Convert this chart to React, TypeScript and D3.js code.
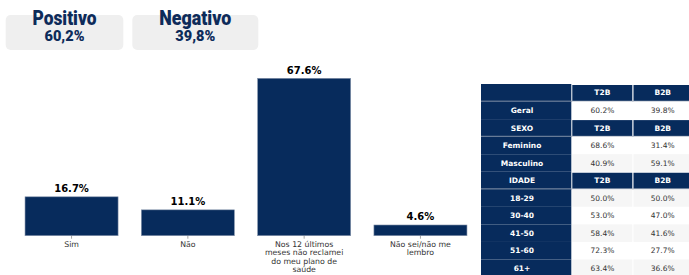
import React, { useEffect, useRef } from 'react';
import * as d3 from 'd3';

const categories = [
  'Sim',
  'Não',
  'Nos 12 últimos meses não reclamei do meu plano de saúde',
  'Não sei/não me lembro',
];
const values = [16.7, 11.1, 67.6, 4.6];

const summaryTitles = ['Positivo', 'Negativo'];
const summaryValues = ['60,2%', '39,8%'];

const tableRowLabels = ['', 'Geral', 'SEXO', 'Feminino', 'Masculino', 'IDADE', '18-29', '30-40', '41-50', '51-60', '61+'];
const tableHeaderRows = [0, 2, 5];
const t2bValues = ['T2B', '60.2%', 'T2B', '68.6%', '40.9%', 'T2B', '50.0%', '53.0%', '58.4%', '72.3%', '63.4%'];
const b2bValues = ['B2B', '39.8%', 'B2B', '31.4%', '59.1%', 'B2B', '50.0%', '47.0%', '41.6%', '27.7%', '36.6%'];
const stripedRows = [4, 6, 8, 10];

const W = 689;
const H = 275;
const NAVY = '#072b5c';
const FONT = 'DejaVu Sans, sans-serif';

// greedy wrap, like python textwrap
function wrap(s: string, width: number) {
  const words = s.split(' ');
  const lines: string[] = [];
  let cur = '';
  words.forEach(w => {
    if (!cur) cur = w;
    else if ((cur + ' ' + w).length <= width) cur += ' ' + w;
    else { lines.push(cur); cur = w; }
  });
  if (cur) lines.push(cur);
  return lines;
}

const App = () => {
  const svgRef = useRef<SVGSVGElement>(null);

  useEffect(() => {
    const svg = d3.select(svgRef.current);
    svg.selectAll('*').remove();

    // summary cards
    const cardX = [[5.7, 123.3], [132.3, 258.3]];
    const titleW = [64, 72];
    summaryTitles.forEach((t, i) => {
      const [x0, x1] = cardX[i];
      const cx = (x0 + x1) / 2;
      svg.append('rect')
        .attr('x', x0).attr('y', 15)
        .attr('width', x1 - x0).attr('height', 35)
        .attr('rx', 5)
        .attr('fill', '#efefef');
      svg.append('text')
        .attr('x', cx).attr('y', 25.3)
        .attr('text-anchor', 'middle')
        .attr('font-family', 'Roboto, sans-serif')
        .attr('font-weight', 900)
        .attr('font-size', 19.5)
        .attr('textLength', titleW[i])
        .attr('lengthAdjust', 'spacingAndGlyphs')
        .attr('fill', '#0d2b5a')
        .text(t);
      svg.append('text')
        .attr('x', cx).attr('y', 40.7)
        .attr('text-anchor', 'middle')
        .attr('font-family', 'Roboto, sans-serif')
        .attr('font-weight', 900)
        .attr('font-size', 14.5)
        .attr('textLength', 40)
        .attr('lengthAdjust', 'spacingAndGlyphs')
        .attr('fill', '#0d2b5a')
        .text(summaryValues[i]);
    });

    // bar chart
    const xScale = d3.scaleBand()
      .domain(categories)
      .range([13.4, 478.6])
      .paddingInner(0.2)
      .paddingOuter(0.1);

    const yScale = d3.scaleLinear()
      .domain([0, d3.max(values) as number])
      .range([235.7, 78.3]);

    const chart = svg.append('g');
    chart.selectAll('.bar')
      .data(categories)
      .enter()
      .append('rect')
      .attr('class', 'bar')
      .attr('x', d => xScale(d) as number)
      .attr('y', (d, i) => yScale(values[i]))
      .attr('width', xScale.bandwidth())
      .attr('height', (d, i) => yScale(0) - yScale(values[i]))
      .attr('fill', NAVY)
      .attr('stroke', '#8593ab')
      .attr('stroke-width', 0.6);

    chart.selectAll('.val')
      .data(categories)
      .enter()
      .append('text')
      .attr('x', d => (xScale(d) as number) + xScale.bandwidth() / 2)
      .attr('y', (d, i) => yScale(values[i]) - 4.5)
      .attr('text-anchor', 'middle')
      .attr('font-family', FONT)
      .attr('font-weight', 'bold')
      .attr('font-size', 10)
      .attr('fill', '#000')
      .text((d, i) => values[i].toFixed(1) + '%');

    const axis = chart.append('g').attr('transform', `translate(0,${yScale(0)})`);
    categories.forEach(c => {
      const cx = (xScale(c) as number) + xScale.bandwidth() / 2;
      axis.append('line')
        .attr('x1', cx).attr('x2', cx)
        .attr('y1', 0).attr('y2', 3)
        .attr('stroke', '#666').attr('stroke-width', 0.6);
      const t = axis.append('text')
        .attr('text-anchor', 'middle')
        .attr('font-family', FONT)
        .attr('font-size', 7.8)
        .attr('fill', '#333');
      wrap(c, 18).forEach((line, j) => {
        t.append('tspan').attr('x', cx).attr('y', 10.9 + j * 8.6).text(line);
      });
    });

    // table
    const rowY = d3.scaleLinear().domain([0, 11]).range([84, 84 + 11 * 17.55]);
    const colX = [481, 572.3, 633.5, 693];
    const rowH = rowY(1) - rowY(0);
    const table = svg.append('g');

    tableRowLabels.forEach((label, i) => {
      const y0 = rowY(i);
      const isHead = tableHeaderRows.includes(i);
      // left col
      table.append('rect')
        .attr('x', colX[0]).attr('y', y0)
        .attr('width', colX[1] - colX[0] - 1).attr('height', rowH)
        .attr('fill', NAVY);
      [t2bValues, b2bValues].forEach((vals, k) => {
        table.append('rect')
          .attr('x', colX[k + 1]).attr('y', y0 + (isHead ? 1 : 0))
          .attr('width', colX[k + 2] - colX[k + 1] - 1.2)
          .attr('height', rowH - (isHead ? 1.5 : 0))
          .attr('fill', isHead ? NAVY : stripedRows.includes(i) ? '#f6f6f6' : '#fff');
        table.append('text')
          .attr('x', (colX[k + 1] + colX[k + 2]) / 2 - 0.5)
          .attr('y', y0 + rowH / 2 + 2.7)
          .attr('text-anchor', 'middle')
          .attr('font-family', FONT)
          .attr('font-size', 7.5)
          .attr('font-weight', isHead ? 'bold' : 'normal')
          .attr('fill', isHead ? '#fff' : '#333')
          .text(vals[i]);
      });
      table.append('text')
        .attr('x', 522)
        .attr('y', y0 + rowH / 2 + 2.7)
        .attr('text-anchor', 'middle')
        .attr('font-family', FONT)
        .attr('font-size', 7.5)
        .attr('font-weight', 'bold')
        .attr('fill', '#fff')
        .text(label);
      if (isHead) {
        table.append('line')
          .attr('x1', colX[0]).attr('x2', W)
          .attr('y1', y0 + rowH - 0.3).attr('y2', y0 + rowH - 0.3)
          .attr('stroke', '#a9b1bf').attr('stroke-width', 1);
      }
    });
  }, []);

  return (
    <div style={{ position: 'absolute', left: 0, top: 0 }}>
      <svg ref={svgRef} width={W} height={H} style={{ display: 'block' }}></svg>
    </div>
  );
};

export default App;
